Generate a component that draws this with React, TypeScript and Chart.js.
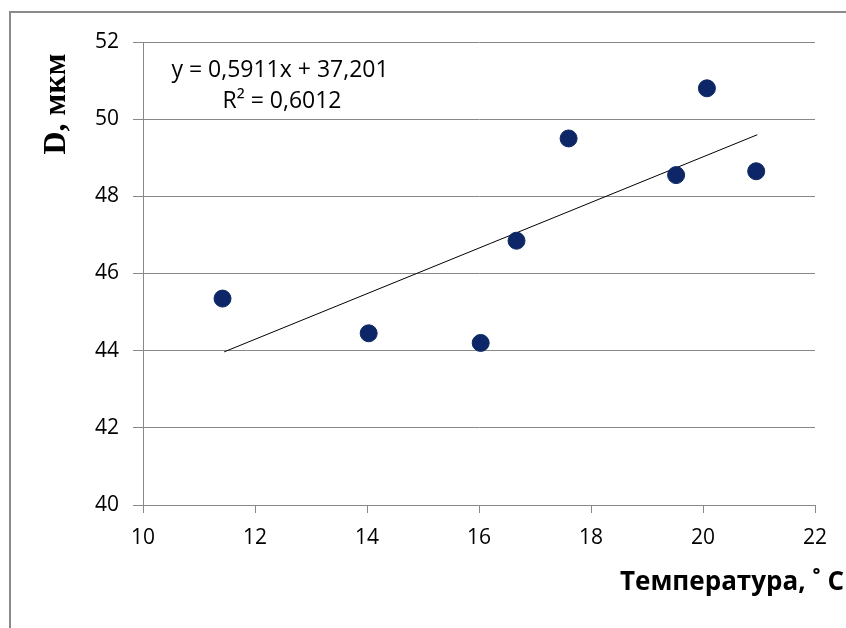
import React, { useEffect, useRef } from "react";
import { Chart, registerables } from "chart.js";

Chart.register(...registerables);

const temperature = [11.42, 14.03, 16.03, 16.67, 17.6, 19.52, 20.07, 20.95];
const diameter = [45.35, 44.45, 44.2, 46.85, 49.5, 48.55, 50.8, 48.65];
const trendX = [11.45, 20.97];
const slope = 0.5911;
const intercept = 37.201;
const equationLines = ["y = 0,5911x + 37,201", "R² = 0,6012"];
const yTitle = "D, мкм";
const xTitle = "Температура, ˚ C";

const tickFont = "'Open Sans', sans-serif";

export default function App() {
  const ref = useRef<HTMLCanvasElement>(null);
  useEffect(() => {
    if (!ref.current) return;
    const textPlugin = {
      id: "texts",
      afterDraw(chart: any) {
        const ctx = chart.ctx;
        ctx.save();
        ctx.fillStyle = "#000";
        // y title
        ctx.save();
        ctx.translate(57, 104);
        ctx.rotate(-Math.PI / 2);
        ctx.font = "bold 32px 'Liberation Serif', serif";
        ctx.textAlign = "center";
        ctx.textBaseline = "middle";
        ctx.fillText(yTitle, 0, 0);
        ctx.restore();
        // x title
        ctx.font = "bold 26px " + tickFont;
        ctx.textAlign = "left";
        ctx.textBaseline = "middle";
        ctx.fillText(xTitle, 620, 583);
        // equation
        ctx.font = "23px " + tickFont;
        ctx.textAlign = "center";
        ctx.fillText(equationLines[0], 280, 70);
        ctx.fillText(equationLines[1], 282, 101);
        ctx.restore();
      },
    };
    const chart = new Chart(ref.current, {
      type: "scatter",
      data: {
        datasets: [
          {
            type: "scatter",
            data: temperature.map((x, i) => ({ x, y: diameter[i] })),
            backgroundColor: "#0c2667",
            borderColor: "#0c2667",
            pointRadius: 8.5,
            order: 1,
          },
          {
            type: "line",
            data: trendX.map((x) => ({ x, y: slope * x + intercept })),
            borderColor: "#000",
            borderWidth: 1,
            pointRadius: 0,
            fill: false,
            order: 2,
          } as any,
        ],
      },
      options: {
        animation: false,
        responsive: false,
        layout: { padding: { left: 0, right: 31, top: 42, bottom: 0 } },
        plugins: { legend: { display: false }, tooltip: { enabled: false } },
        scales: {
          x: {
            type: "linear",
            min: 10,
            max: 22,
            ticks: { stepSize: 2, color: "#000", font: { family: tickFont, size: 21 }, padding: 12 },
            grid: { drawOnChartArea: false, drawTicks: true, tickLength: 8, color: "#888" },
            border: { color: "#888", width: 1 },
            afterFit: (s: any) => { s.height = 123; },
          },
          y: {
            type: "linear",
            min: 40,
            max: 52,
            ticks: { stepSize: 2, color: "#000", font: { family: tickFont, size: 21 }, padding: 14 },
            grid: { color: "#888", tickLength: 10 },
            border: { color: "#888", width: 1 },
            afterFit: (s: any) => { s.width = 143; },
          },
        },
      },
      plugins: [textPlugin],
    });
    return () => chart.destroy();
  }, []);
  return (
    <div style={{ position: "fixed", left: 0, top: 0, width: 846, height: 628, background: "#fff", overflow: "hidden" }}>
      <div style={{ position: "absolute", left: 9, top: 11, width: 900, height: 700, border: "2px solid #8a8a8a", boxSizing: "border-box" }} />
      <canvas ref={ref} width={846} height={628} style={{ position: "absolute", left: 0, top: 0 }} />
    </div>
  );
}
